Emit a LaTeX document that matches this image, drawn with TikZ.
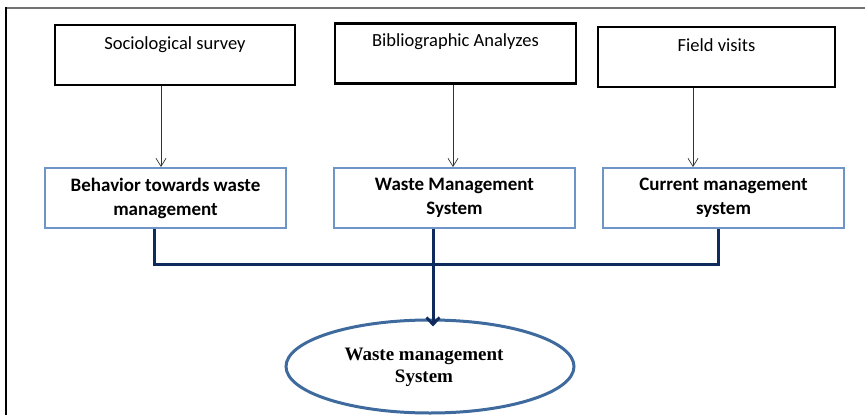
\documentclass[tikz,border=0pt]{standalone}
\usepackage{fontspec}
\setmainfont{Carlito}
\newfontfamily\timesfont{Liberation Serif}
\usetikzlibrary{arrows.meta,shapes.geometric}
\definecolor{navy}{HTML}{0F2B5E}
\definecolor{boxblue}{HTML}{6F94C8}
\definecolor{ellblue}{HTML}{3E6A9E}
\begin{document}
\begin{tikzpicture}[x=1pt,y=-1pt,
  topbox/.style={draw=black,line width=2.6pt,minimum height=60pt,inner sep=0pt},
  toptext/.style={font=\fontsize{18.5}{22}\selectfont,inner sep=0pt},
  midbox/.style={draw=boxblue,line width=2pt,minimum width=241pt,minimum height=60pt,inner sep=0pt,
     align=center,font=\bfseries\fontsize{19}{24}\selectfont},
  thinarrow/.style={draw=black!80,line width=0.8pt,-{Straight Barb[length=8pt,width=10pt,line width=0.7pt]}},
  busline/.style={draw=navy,line width=3pt},
  thickarrow/.style={draw=navy,line width=3pt,-{Straight Barb[length=7pt,width=13pt,line width=2.8pt]}},
  goal/.style={ellipse,draw=ellblue,line width=3pt,minimum width=288pt,minimum height=93pt,inner sep=0pt},
  goaltext/.style={align=center,font=\timesfont\bfseries\fontsize{19}{22}\selectfont,inner sep=0pt}]
\useasboundingbox (0,0) rectangle (865,415);
% frame
\draw[draw=black!55,line width=2pt] (6,8) -- (866,8);
\draw[draw=black,line width=2.4pt] (6,7) -- (6,416);
% top boxes
\node[topbox,minimum width=240pt] (s1) at (175,55) {};
\node[toptext] (t1) at (175,45) {Sociological survey};
\node[topbox,minimum width=241pt] (s2) at (455.5,53.5) {};
\node[toptext] (t2) at (455.5,42) {Bibliographic Analyzes};
\node[topbox,minimum width=237pt] (s3) at (716.5,57) {};
\node[toptext] (t3) at (716.5,45) {Field visits};
% middle boxes
\node[midbox] (b1) at (165.5,198) {Behavior towards waste\\management};
\node[midbox] (b2) at (454.5,198) {Waste Management\\System};
\node[midbox] (b3) at (723.5,198) {Current management\\system};
% ellipse
\node[goal] (e) at (430,366.5) {};
\node[goaltext] (et) at (424,367) {Waste management\\System};
% coordinates
\coordinate (c1) at (161,0);
\coordinate (c2) at (453,0);
\coordinate (c3) at (693,0);
\coordinate (d1) at (154,0);
\coordinate (d2) at (433,0);
\coordinate (d3) at (718,0);
\coordinate (bus) at (0,264);
% thin arrows
\draw[thinarrow] (s1.south -| c1) -- (b1.north -| c1);
\draw[thinarrow] (s2.south -| c2) -- (b2.north -| c2);
\draw[thinarrow] (s3.south -| c3) -- (b3.north -| c3);
% bus
\draw[busline,line cap=butt,line join=miter] (b1.south -| d1) -- (bus -| d1) -- (bus -| d3) -- (b3.south -| d3);
\draw[thickarrow] (b2.south -| d2) -- ([yshift=-8pt]e.north -| d2);
\end{tikzpicture}
\end{document}
